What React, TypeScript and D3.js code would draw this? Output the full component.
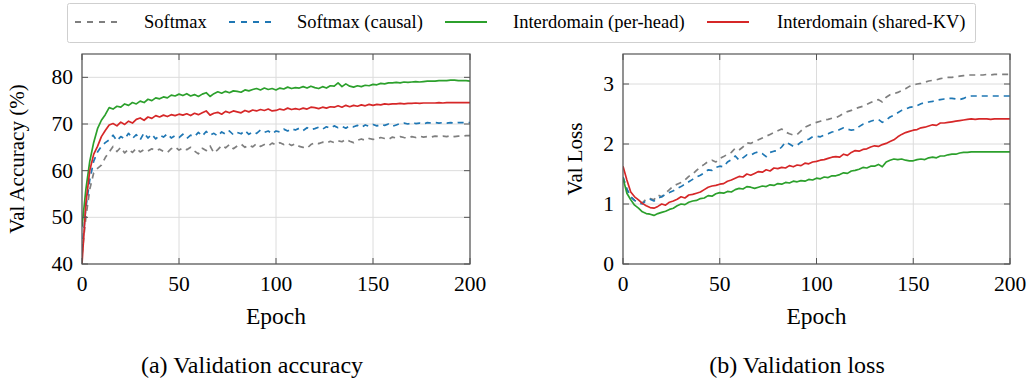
import React from "react";
import * as d3 from "d3";

const EPOCH_STEP = 2;
const xTicks = [0, 50, 100, 150, 200];
const accTicks = [40, 50, 60, 70, 80];
const lossTicks = [0, 1, 2, 3];

const seriesNames = ["Softmax", "Softmax (causal)", "Interdomain (per-head)", "Interdomain (shared-KV)"];
const seriesColors = ["#7f7f7f", "#1f77b4", "#2ca02c", "#d62728"];
const seriesDashed = [true, true, false, false];

const accSoftmax = [42, 50, 56, 59.5, 60.5, 61.2, 62.8, 64.0, 65.2, 64.1, 65.0, 63.8, 64.6, 63.9, 64.8, 64.0, 64.5, 64.2, 64.7, 64.3, 64.6, 64.1, 63.9, 64.7, 65.1, 64.4, 64.9, 64.5, 65.0, 64.2, 63.6, 64.8, 64.3, 65.3, 63.8, 64.5, 65.4, 64.9, 65.6, 64.7, 65.3, 65.7, 65.0, 65.5, 65.1, 65.8, 65.2, 65.6, 65.3, 65.9, 65.5, 66.0, 65.6, 65.9, 65.4, 65.8, 65.2, 65.0, 64.8, 65.6, 66.0, 65.8, 66.1, 65.9, 66.3, 66.0, 66.4, 66.2, 66.7, 66.3, 66.0, 66.5, 66.8, 66.5, 66.9, 66.7, 66.8, 67.1, 66.9, 66.7, 67.2, 67.0, 67.3, 67.1, 67.0, 67.3, 67.1, 67.4, 67.2, 67.3, 67.2, 67.4, 67.3, 67.4, 67.3, 67.5, 67.3, 67.4, 67.4, 67.5, 67.5];
const accCausal = [43, 52, 58, 62, 64, 65.2, 66.0, 66.6, 67.6, 66.4, 67.3, 66.8, 68.0, 66.9, 67.7, 66.6, 68.1, 67.0, 67.8, 66.8, 67.6, 67.2, 67.9, 67.0, 67.5, 67.1, 67.8, 66.9, 67.6, 67.3, 68.2, 67.4, 68.4, 67.6, 68.0, 67.4, 68.3, 67.8, 68.5, 67.7, 68.2, 67.9, 68.6, 67.8, 68.3, 68.0, 68.7, 68.2, 68.5, 67.9, 68.5, 68.3, 68.9, 68.5, 69.0, 68.7, 69.1, 68.6, 69.2, 68.8, 69.0, 69.3, 68.9, 69.4, 69.1, 69.6, 69.2, 69.5, 69.1, 69.6, 69.4, 69.7, 69.3, 69.8, 69.5, 69.9, 69.6, 69.9, 69.7, 70.0, 69.5, 69.8, 70.1, 70.2, 70.0, 70.3, 70.1, 70.2, 70.0, 70.3, 70.2, 70.3, 70.2, 70.3, 70.2, 70.3, 70.2, 70.3, 70.3, 70.3, 70.3];
const accPerHead = [48, 56, 62, 66, 69, 70.8, 72, 73.5, 73.2, 73.8, 73.6, 74.3, 74.0, 74.6, 74.3, 74.9, 74.6, 75.3, 75.0, 75.6, 75.4, 75.8, 75.6, 76.2, 76.0, 76.4, 76.1, 76.5, 76.0, 76.3, 75.9, 76.4, 76.7, 75.9, 76.5, 76.9, 76.6, 77.0, 76.7, 77.1, 77.0, 76.8, 77.3, 77.1, 77.4, 77.6, 77.3, 77.7, 77.4, 77.6, 77.3, 77.7, 77.5, 77.9, 77.6, 77.8, 77.7, 78.0, 77.7, 78.1, 77.8, 77.6, 78.0, 77.7, 78.2, 78.1, 78.8, 78.0, 78.6, 78.1, 77.9, 78.2, 78.0, 78.3, 78.2, 78.5, 78.4, 78.7, 78.6, 78.8, 78.8, 78.9, 78.8, 79.0, 78.9, 79.0, 79.1, 79.0, 79.1, 79.2, 79.2, 79.2, 79.3, 79.3, 79.3, 79.4, 79.4, 79.3, 79.3, 79.3, 79.2];
const accSharedKV = [40, 53, 60, 63.5, 65.2, 67.3, 68.6, 69.8, 70.1, 69.6, 70.4, 69.9, 70.6, 70.2, 71.0, 71.3, 70.8, 71.5, 71.2, 71.8, 71.5, 71.9, 71.6, 72.0, 71.8, 72.1, 71.9, 72.2, 71.8, 72.3, 72.0, 72.4, 72.8, 71.9, 72.3, 72.5, 72.1, 72.7, 72.4, 72.8, 72.6, 72.4, 72.9, 72.6, 73.0, 72.8, 73.1, 72.9, 73.2, 72.8, 72.9, 73.2, 73.0, 73.4, 73.1, 73.3, 73.1, 73.4, 73.2, 73.6, 73.5, 73.3, 73.6, 73.4, 73.7, 73.6, 73.9, 73.6, 74.0, 73.7, 74.0, 73.8, 74.1, 73.9, 74.2, 74.0, 74.2, 74.1, 74.3, 74.2, 74.3, 74.3, 74.4, 74.3, 74.4, 74.4, 74.5, 74.4, 74.5, 74.5, 74.5, 74.5, 74.6, 74.5, 74.6, 74.6, 74.6, 74.6, 74.6, 74.6, 74.6];

const lossSoftmax = [1.45, 1.24, 1.12, 1.06, 1.03, 1.02, 1.08, 1.09, 1.07, 1.15, 1.12, 1.18, 1.24, 1.30, 1.33, 1.36, 1.40, 1.46, 1.50, 1.56, 1.62, 1.66, 1.71, 1.73, 1.70, 1.76, 1.79, 1.83, 1.86, 1.93, 1.90, 1.95, 2.02, 2.01, 2.04, 2.07, 2.10, 2.13, 2.16, 2.19, 2.22, 2.25, 2.20, 2.17, 2.15, 2.16, 2.22, 2.28, 2.31, 2.34, 2.36, 2.38, 2.40, 2.41, 2.43, 2.44, 2.47, 2.51, 2.54, 2.56, 2.59, 2.61, 2.63, 2.66, 2.69, 2.72, 2.74, 2.70, 2.78, 2.82, 2.84, 2.86, 2.89, 2.92, 2.96, 2.98, 3.00, 3.01, 3.03, 3.05, 3.06, 3.07, 3.09, 3.10, 3.11, 3.11, 3.12, 3.13, 3.14, 3.15, 3.15, 3.15, 3.15, 3.15, 3.16, 3.15, 3.16, 3.16, 3.16, 3.16, 3.16];
const lossCausal = [1.45, 1.25, 1.12, 1.06, 1.02, 1.00, 1.06, 1.08, 1.05, 1.10, 1.12, 1.16, 1.19, 1.22, 1.26, 1.29, 1.33, 1.37, 1.41, 1.45, 1.48, 1.52, 1.57, 1.56, 1.61, 1.63, 1.62, 1.70, 1.74, 1.80, 1.73, 1.77, 1.82, 1.81, 1.85, 1.87, 1.84, 1.79, 1.86, 1.88, 1.89, 1.95, 2.03, 2.00, 1.96, 1.98, 2.03, 2.06, 2.08, 2.12, 2.13, 2.12, 2.15, 2.17, 2.20, 2.21, 2.24, 2.27, 2.25, 2.23, 2.24, 2.29, 2.33, 2.35, 2.38, 2.40, 2.41, 2.36, 2.40, 2.45, 2.48, 2.52, 2.56, 2.58, 2.61, 2.62, 2.64, 2.67, 2.69, 2.70, 2.71, 2.73, 2.74, 2.75, 2.76, 2.76, 2.75, 2.74, 2.76, 2.79, 2.80, 2.80, 2.80, 2.80, 2.80, 2.80, 2.80, 2.80, 2.80, 2.80, 2.80];
const lossPerHead = [1.43, 1.18, 1.07, 0.98, 0.93, 0.87, 0.84, 0.83, 0.81, 0.84, 0.86, 0.88, 0.91, 0.93, 0.97, 1.00, 0.99, 1.03, 1.05, 1.06, 1.09, 1.10, 1.14, 1.13, 1.17, 1.19, 1.18, 1.21, 1.20, 1.24, 1.26, 1.25, 1.29, 1.28, 1.26, 1.28, 1.30, 1.29, 1.32, 1.31, 1.34, 1.33, 1.36, 1.35, 1.38, 1.37, 1.39, 1.38, 1.41, 1.40, 1.43, 1.42, 1.45, 1.44, 1.47, 1.47, 1.49, 1.52, 1.51, 1.55, 1.56, 1.58, 1.61, 1.60, 1.63, 1.63, 1.66, 1.62, 1.70, 1.73, 1.75, 1.74, 1.75, 1.73, 1.72, 1.72, 1.74, 1.75, 1.74, 1.77, 1.78, 1.77, 1.80, 1.80, 1.82, 1.83, 1.83, 1.85, 1.86, 1.86, 1.87, 1.87, 1.87, 1.87, 1.87, 1.87, 1.87, 1.87, 1.87, 1.87, 1.87];
const lossSharedKV = [1.63, 1.40, 1.20, 1.12, 1.07, 1.01, 0.97, 0.94, 0.93, 0.96, 1.00, 0.98, 1.03, 1.05, 1.08, 1.12, 1.10, 1.15, 1.16, 1.18, 1.20, 1.24, 1.28, 1.30, 1.31, 1.33, 1.34, 1.38, 1.40, 1.43, 1.46, 1.45, 1.50, 1.48, 1.51, 1.54, 1.53, 1.57, 1.55, 1.60, 1.59, 1.61, 1.60, 1.64, 1.62, 1.65, 1.64, 1.68, 1.67, 1.70, 1.71, 1.73, 1.74, 1.76, 1.78, 1.79, 1.78, 1.83, 1.81, 1.86, 1.89, 1.88, 1.91, 1.92, 1.95, 1.97, 1.96, 1.99, 2.01, 2.04, 2.07, 2.12, 2.16, 2.19, 2.21, 2.23, 2.24, 2.27, 2.28, 2.30, 2.32, 2.31, 2.35, 2.35, 2.36, 2.37, 2.38, 2.39, 2.40, 2.41, 2.42, 2.41, 2.42, 2.42, 2.42, 2.41, 2.42, 2.42, 2.42, 2.42, 2.42];

const FONT = "'Liberation Serif', 'Times New Roman', serif";

type PanelProps = {
  left: number; right: number; top: number; bottom: number;
  yDomain: [number, number]; yTicks: number[];
  series: number[][]; yLabel: string; yLabelX: number; caption: string; captionX: number;
};

function Panel({ left, right, top, bottom, yDomain, yTicks, series, yLabel, yLabelX, caption, captionX }: PanelProps) {
  const x = d3.scaleLinear().domain([0, 200]).range([left, right]);
  const y = d3.scaleLinear().domain(yDomain).range([bottom, top]);
  const cx = (left + right) / 2;
  const tickLen = 6;
  const frame = "#555";
  return (
    <g>
      {xTicks.map((t) => (
        <line key={"gx" + t} x1={x(t)} x2={x(t)} y1={top} y2={bottom} stroke="#dcdcdc" strokeWidth={1} />
      ))}
      {yTicks.map((t) => (
        <line key={"gy" + t} x1={left} x2={right} y1={y(t)} y2={y(t)} stroke="#dcdcdc" strokeWidth={1} />
      ))}
      <defs>
        <clipPath id={"clip" + left}>
          <rect x={left} y={top} width={right - left} height={bottom - top} />
        </clipPath>
      </defs>
      <g clipPath={`url(#clip${left})`}>
        {series.map((vals, si) => {
          const line = d3.line<number>().x((_, i) => x(i * EPOCH_STEP)).y((v) => y(v));
          return (
            <path key={si} d={line(vals) || ""} fill="none" stroke={seriesColors[si]}
              strokeWidth={1.7} strokeDasharray={seriesDashed[si] ? "6,5" : undefined}
              strokeLinejoin="round" />
          );
        })}
      </g>
      {xTicks.map((t) => (
        <g key={"tx" + t}>
          <line x1={x(t)} x2={x(t)} y1={bottom} y2={bottom - tickLen} stroke={frame} strokeWidth={1} />
          <line x1={x(t)} x2={x(t)} y1={top} y2={top + tickLen} stroke={frame} strokeWidth={1} />
          <text x={x(t)} y={bottom + 27} textAnchor="middle" fontFamily={FONT} fontSize={21.5} fill="#000">{t}</text>
        </g>
      ))}
      {yTicks.map((t) => (
        <g key={"ty" + t}>
          <line x1={left} x2={left + tickLen} y1={y(t)} y2={y(t)} stroke={frame} strokeWidth={1} />
          <line x1={right} x2={right - tickLen} y1={y(t)} y2={y(t)} stroke={frame} strokeWidth={1} />
          <text x={left - 9} y={y(t) + 7} textAnchor="end" fontFamily={FONT} fontSize={21.5} fill="#000">{t}</text>
        </g>
      ))}
      <rect x={left} y={top} width={right - left} height={bottom - top} fill="none" stroke={frame} strokeWidth={1.2} />
      <text x={cx} y={bottom + 60} textAnchor="middle" fontFamily={FONT} fontSize={23.5} fill="#000">Epoch</text>
      <text transform={`translate(${yLabelX},${(top + bottom) / 2}) rotate(-90)`} textAnchor="middle"
        fontFamily={FONT} fontSize={21} fill="#000">{yLabel}</text>
      <text x={captionX} y={bottom + 109} textAnchor="middle" fontFamily={FONT} fontSize={24} fill="#000">{caption}</text>
    </g>
  );
}

const legendLineX = [75, 229, 445, 707];
const legendTextX = [144, 297, 513, 777];

export default function App() {
  return (
    <svg width={1031} height={379} style={{ position: "absolute", left: 0, top: 0, background: "#fff" }}>
      <rect x={67.5} y={3.5} width={908} height={39} rx={2} fill="#fff" stroke="#cfcfcf" strokeWidth={1} />
      {seriesNames.map((n, i) => (
        <g key={n}>
          <line x1={legendLineX[i]} x2={legendLineX[i] + 42} y1={22} y2={22} stroke={seriesColors[i]}
            strokeWidth={1.8} strokeDasharray={seriesDashed[i] ? "6,6" : undefined} />
          <text x={legendTextX[i]} y={28} fontFamily={FONT} fontSize={18.5} fill="#000">{n}</text>
        </g>
      ))}
      <Panel left={82} right={470} top={54} bottom={264} yDomain={[40, 85]} yTicks={accTicks}
        series={[accSoftmax, accCausal, accPerHead, accSharedKV]} yLabel="Val Accuracy (%)" yLabelX={24}
        caption="(a) Validation accuracy" captionX={252} />
      <Panel left={623} right={1010} top={54} bottom={264} yDomain={[0, 3.5]} yTicks={lossTicks}
        series={[lossSoftmax, lossCausal, lossPerHead, lossSharedKV]} yLabel="Val Loss" yLabelX={582}
        caption="(b) Validation loss" captionX={797} />
    </svg>
  );
}
